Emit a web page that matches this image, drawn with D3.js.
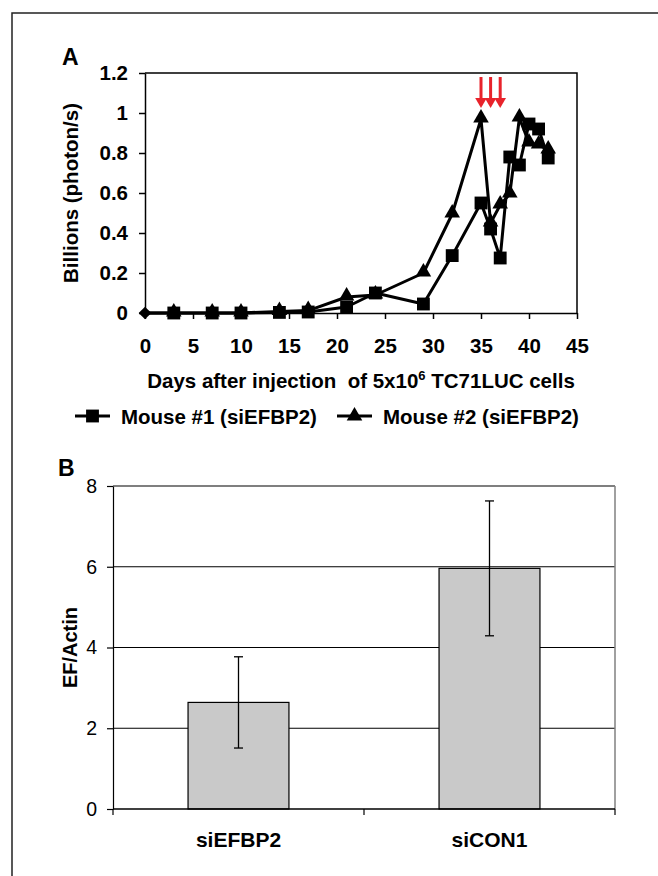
<!DOCTYPE html>
<html>
<head>
<meta charset="utf-8">
<script src="https://cdn.jsdelivr.net/npm/d3@7"></script>
<style>
  body { margin: 0; background: #fff; }
  svg { display: block; font-family: 'Liberation Sans', Arial, sans-serif; }
  text { white-space: pre; }
</style>
</head>
<body>
<svg></svg>
<script>
// panel A data
const baseDays = [0];
const baseValues = [0];
const mouse1Days = [3, 7, 10, 14, 17, 21, 24, 29, 32, 35, 36, 37, 38, 39, 40, 41, 42];
const mouse1Values = [0, 0, 0, 0.003, 0.005, 0.03, 0.1, 0.045, 0.287, 0.55, 0.42, 0.275, 0.78, 0.74, 0.945, 0.92, 0.775];
const mouse2Days = [3, 7, 10, 14, 17, 21, 24, 29, 32, 35, 36, 37, 38, 39, 40, 41, 42];
const mouse2Values = [0, 0, 0, 0.008, 0.012, 0.08, 0.09, 0.2, 0.495, 0.97, 0.45, 0.54, 0.595, 0.975, 0.85, 0.84, 0.815];
const arrowDays = [35, 36, 37];
const xTicksA = [0, 5, 10, 15, 20, 25, 30, 35, 40, 45];
const yTicksA = [0, 0.2, 0.4, 0.6, 0.8, 1, 1.2];

// panel B data
const categories = ['siEFBP2', 'siCON1'];
const ratioValues = [2.64, 5.96];
const ratioErrors = [1.13, 1.67];
const yTicksB = [0, 2, 4, 6, 8];

const w = 658;
const h = 876;
const svg = d3.select('svg').attr('width', w).attr('height', h);

svg.append('rect').attr('width', w).attr('height', h).attr('fill', '#fff');

// figure frame (top + left only)
svg.append('path')
  .attr('d', `M12,${h} V13 H${w}`)
  .attr('fill', 'none')
  .attr('stroke', '#222')
  .attr('stroke-width', 1.5);

// ---------- Panel A ----------
const xA = d3.scaleLinear().domain([0, 45]).range([145, 577]);
const yA = d3.scaleLinear().domain([0, 1.2]).range([313, 73]);

svg.append('text')
  .attr('x', 62).attr('y', 65)
  .attr('font-size', 23).attr('font-weight', 'bold')
  .text('A');

// top and right border of plot area
svg.append('path')
  .attr('d', `M${xA(0)},${yA(1.2)} H${xA(45)} V${yA(0)}`)
  .attr('fill', 'none')
  .attr('stroke', '#000')
  .attr('stroke-width', 1.5);

const xAxisA = d3.axisBottom(xA).tickValues(xTicksA).tickSize(6).tickPadding(19).tickSizeOuter(0);
const yAxisA = d3.axisLeft(yA).tickValues(yTicksA).tickSize(6).tickPadding(11).tickSizeOuter(0)
  .tickFormat((d) => String(Math.round(d * 10) / 10));

const gxA = svg.append('g').attr('transform', `translate(0, ${yA(0)})`).call(xAxisA);
const gyA = svg.append('g').attr('transform', `translate(${xA(0)}, 0)`).call(yAxisA);
[gxA, gyA].forEach((g) => {
  g.selectAll('.domain, line').attr('stroke', '#000').attr('stroke-width', 1.5);
  g.selectAll('text').attr('font-size', 20.5).attr('font-weight', 'bold')
    .attr('font-family', "'Liberation Sans', Arial, sans-serif").attr('fill', '#000');
});

svg.append('text')
  .attr('transform', `translate(78, ${(yA(0) + yA(1.2)) / 2}) rotate(-90)`)
  .attr('text-anchor', 'middle')
  .attr('font-size', 20.5).attr('font-weight', 'bold')
  .text('Billions (photon/s)');

const xTitle = svg.append('text')
  .attr('x', (xA(0) + xA(45)) / 2).attr('y', 388)
  .attr('text-anchor', 'middle')
  .attr('font-size', 20.5).attr('font-weight', 'bold');
xTitle.append('tspan').text('Days after injection  of 5x10');
xTitle.append('tspan').attr('font-size', 13).attr('dy', -8).text('6');
xTitle.append('tspan').attr('dy', 8).text(' TC71LUC cells');

const line = d3.line().x((d) => xA(d[0])).y((d) => yA(d[1]));
const base = d3.zip(baseDays, baseValues);
const mouse1 = d3.zip(mouse1Days, mouse1Values);
const mouse2 = d3.zip(mouse2Days, mouse2Values);

[mouse1, mouse2].forEach((s) => {
  svg.append('path')
    .datum(base.concat(s))
    .attr('d', line)
    .attr('fill', 'none')
    .attr('stroke', '#000')
    .attr('stroke-width', 3)
    .attr('stroke-linejoin', 'round');
});

const square = d3.symbol().type(d3.symbolSquare).size(165);
const triangle = d3.symbol().type(d3.symbolTriangle).size(105);
const diamond = d3.symbol().type(d3.symbolSquare).size(80);

svg.selectAll('.sq')
  .data(mouse1)
  .enter()
  .append('path')
  .attr('class', 'sq')
  .attr('transform', (d) => `translate(${xA(d[0])}, ${yA(d[1])})`)
  .attr('d', square);

svg.selectAll('.tri')
  .data(mouse2)
  .enter()
  .append('path')
  .attr('class', 'tri')
  .attr('transform', (d) => `translate(${xA(d[0])}, ${yA(d[1]) - 1})`)
  .attr('d', triangle);

svg.selectAll('.dia')
  .data(base)
  .enter()
  .append('path')
  .attr('class', 'dia')
  .attr('transform', (d) => `translate(${xA(d[0])}, ${yA(d[1])}) rotate(45)`)
  .attr('d', diamond);

// red arrows marking treatment days
const arrows = svg.selectAll('.arrow').data(arrowDays).enter().append('g').attr('class', 'arrow');
arrows.append('line')
  .attr('x1', (d) => xA(d)).attr('x2', (d) => xA(d))
  .attr('y1', yA(1.18)).attr('y2', yA(1.07))
  .attr('stroke', '#e8232b').attr('stroke-width', 3);
arrows.append('path')
  .attr('d', (d) => `M${xA(d) - 5.8},${yA(1.075)} L${xA(d) + 5.8},${yA(1.075)} L${xA(d)},${yA(1.025)} Z`)
  .attr('fill', '#e8232b');

// legend
const legend = [
  { x: 75, label: 'Mouse #1 (siEFBP2)', sym: square },
  { x: 337, label: 'Mouse #2 (siEFBP2)', sym: triangle },
];
const lg = svg.selectAll('.legend').data(legend).enter().append('g')
  .attr('transform', (d) => `translate(${d.x}, 416)`);
lg.append('line').attr('x1', 0).attr('x2', 35).attr('stroke', '#000').attr('stroke-width', 3);
lg.append('path').attr('transform', 'translate(17.5, 0)').attr('d', (d) => d.sym());
lg.append('text')
  .attr('x', 46).attr('y', 8)
  .attr('font-size', 20.5).attr('font-weight', 'bold')
  .text((d) => d.label);

// ---------- Panel B ----------
const xB = d3.scaleBand().domain(categories).range([113, 615]).paddingInner(0.598).paddingOuter(0.299);
const xCat = d3.scaleBand().domain(categories).range([113, 615]);
const yB = d3.scaleLinear().domain([0, 8]).range([809, 486]);

svg.append('text')
  .attr('x', 58).attr('y', 476)
  .attr('font-size', 23).attr('font-weight', 'bold')
  .text('B');

svg.selectAll('.grid')
  .data(yTicksB.slice(1))
  .enter()
  .append('line')
  .attr('x1', 113).attr('x2', 615)
  .attr('y1', (d) => yB(d)).attr('y2', (d) => yB(d))
  .attr('stroke', '#000').attr('stroke-width', 1.2);

svg.append('line')
  .attr('x1', 615).attr('x2', 615).attr('y1', yB(8)).attr('y2', yB(0))
  .attr('stroke', '#808080').attr('stroke-width', 1.5);

svg.selectAll('.bar')
  .data(categories)
  .enter()
  .append('rect')
  .attr('x', (d) => xB(d))
  .attr('y', (d, i) => yB(ratioValues[i]))
  .attr('width', xB.bandwidth())
  .attr('height', (d, i) => yB(0) - yB(ratioValues[i]))
  .attr('fill', '#c9c9c9')
  .attr('stroke', '#000')
  .attr('stroke-width', 1.2);

const err = svg.selectAll('.err').data(categories).enter().append('g')
  .attr('stroke', '#000').attr('stroke-width', 1.3);
const cx = (d) => xB(d) + xB.bandwidth() / 2;
err.append('line')
  .attr('x1', cx).attr('x2', cx)
  .attr('y1', (d, i) => yB(ratioValues[i] + ratioErrors[i]))
  .attr('y2', (d, i) => yB(ratioValues[i] - ratioErrors[i]));
[1, -1].forEach((sgn) => {
  err.append('line')
    .attr('x1', (d) => cx(d) - 4.5).attr('x2', (d) => cx(d) + 4.5)
    .attr('y1', (d, i) => yB(ratioValues[i] + sgn * ratioErrors[i]))
    .attr('y2', (d, i) => yB(ratioValues[i] + sgn * ratioErrors[i]));
});

const yAxisB = d3.axisLeft(yB).tickValues(yTicksB).tickSize(6).tickPadding(10).tickSizeOuter(0);
const gyB = svg.append('g').attr('transform', 'translate(113, 0)').call(yAxisB);
gyB.selectAll('.domain, line').attr('stroke', '#000').attr('stroke-width', 1.2);
gyB.selectAll('text').attr('font-size', 19.5).attr('fill', '#000')
  .attr('font-family', "'Liberation Sans', Arial, sans-serif");

// category axis: ticks sit between categories
const gxB = svg.append('g').attr('transform', `translate(0, ${yB(0)})`);
gxB.append('line').attr('x1', 113).attr('x2', 615).attr('stroke', '#000').attr('stroke-width', 1.5);
gxB.selectAll('.tk')
  .data(categories.map((c) => xCat(c)).concat([615]))
  .enter()
  .append('line')
  .attr('x1', (d) => d).attr('x2', (d) => d)
  .attr('y1', 0).attr('y2', 6)
  .attr('stroke', '#000').attr('stroke-width', 1.2);
gxB.selectAll('.cat')
  .data(categories)
  .enter()
  .append('text')
  .attr('x', (d) => xCat(d) + xCat.bandwidth() / 2)
  .attr('y', 38)
  .attr('text-anchor', 'middle')
  .attr('font-size', 21).attr('font-weight', 'bold')
  .text((d) => d);

svg.append('text')
  .attr('transform', `translate(77, ${(yB(0) + yB(8)) / 2}) rotate(-90)`)
  .attr('text-anchor', 'middle')
  .attr('font-size', 20).attr('font-weight', 'bold')
  .text('EF/Actin');
</script>
</body>
</html>
